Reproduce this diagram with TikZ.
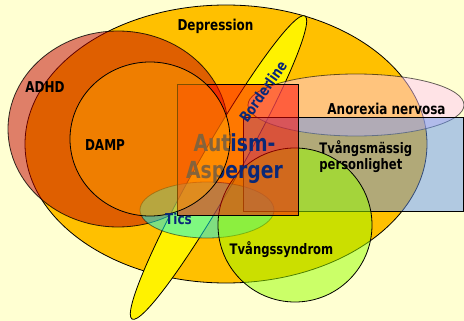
\documentclass[tikz,border=0pt]{standalone}
\usepackage{fontspec}
\newfontfamily\lblfont{DejaVu Sans}[FakeStretch=0.8]
\definecolor{bgc}{RGB}{255,255,210}
\definecolor{depc}{RGB}{255,192,0}
\definecolor{adhdc}{RGB}{192,0,0}
\definecolor{dampc}{RGB}{255,158,0}
\definecolor{ticsc}{RGB}{0,255,255}
\definecolor{anoc}{RGB}{255,200,250}
\definecolor{persc}{RGB}{100,148,240}
\definecolor{tvc}{RGB}{153,255,0}
\definecolor{autc}{RGB}{255,0,0}
\definecolor{navyc}{RGB}{10,40,120}
\begin{document}
\begin{tikzpicture}[x=1pt,y=-1pt,line width=0.8pt,
  lbl/.style={inner sep=0pt,anchor=base,font=\lblfont\bfseries\fontsize{15}{18}\selectfont},
  big/.style={inner sep=0pt,anchor=base,text=navyc,font=\lblfont\bfseries\fontsize{23.5}{27}\selectfont},
  semi/.style={fill opacity=.5}]
\fill[bgc] (0,0) rectangle (464,321);
\useasboundingbox (0,0) rectangle (464,321);
% Depression
\draw[fill=depc] (226,144) ellipse [x radius=201, y radius=139];
% ADHD
\draw[fill=adhdc,semi,draw opacity=.8] (118,129) ellipse [x radius=110, y radius=98];
% Borderline
\draw[fill=yellow,rotate around={60.3:(218.5,167.5)}] (218.5,167.5) ellipse [x radius=174.5, y radius=20];
% Tics
\draw[fill=ticsc,semi,draw opacity=.5] (207,210) ellipse [x radius=67, y radius=28];
% Anorexia nervosa
\draw[fill=anoc,semi,draw opacity=.6] (356,105) ellipse [x radius=108, y radius=31];
% Tvangsmassig personlighet
\draw[fill=persc,semi] (243,117) rectangle (463,211);
% Tvangssyndrom
\draw[fill=tvc,semi] (295,225) circle [radius=77];
% Autism-Asperger box
\draw[fill=autc,semi] (177,84) rectangle (298,215);
\node[big] (aut1) at (234.5,152) {Autism-};
\node[big] (aut2) at (234.5,178.5) {Asperger};
% DAMP
\draw[fill=dampc,semi] (150,139) ellipse [x radius=80, y radius=77];
% labels
\node[lbl] (dep) at (215.5,31) {Depression};
\node[lbl] (adhd) at (45,93) {ADHD};
\node[lbl] (damp) at (105,150) {DAMP};
\node[lbl,text=navyc,anchor=center,rotate=55] (bord) at (263,91.5) {Borderline};
\node[lbl] (ano) at (386.5,115) {Anorexia nervosa};
\node[lbl,anchor=base west,font=\lblfont\bfseries\fontsize{14.5}{18}\selectfont] (pers1) at (319,153.5) {Tvångsmässig};
\node[lbl,anchor=base west,font=\lblfont\bfseries\fontsize{14.5}{18}\selectfont] (pers2) at (319,169) {personlighet};
\node[lbl,text=navyc] (tics) at (178.5,225) {Tics};
\node[lbl,font=\lblfont\bfseries\fontsize{14.5}{18}\selectfont] (tvs) at (281.5,254.5) {Tvångssyndrom};
\end{tikzpicture}
\end{document}
